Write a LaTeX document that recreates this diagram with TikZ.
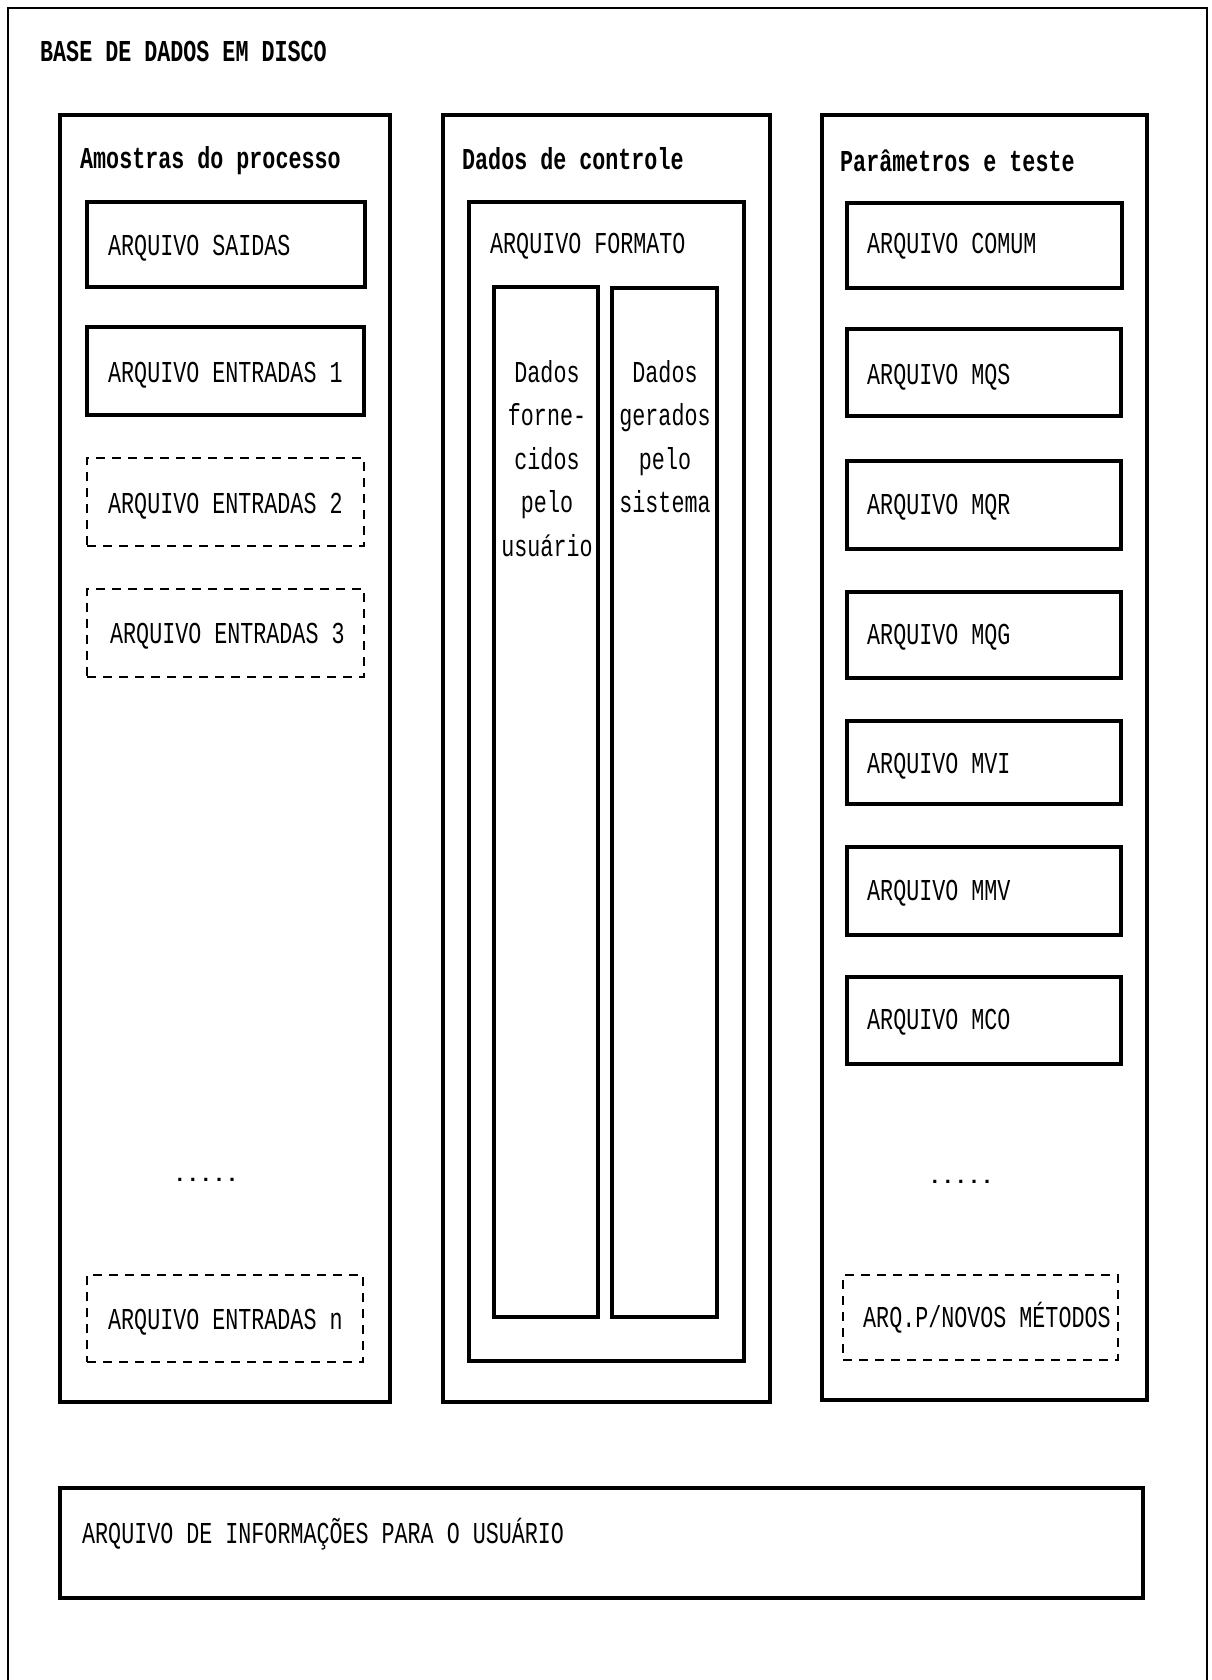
\documentclass[tikz,border=0pt]{standalone}
\usepackage{fontspec}
\setmainfont{Liberation Mono}
\usepackage{graphicx}
\usetikzlibrary{fit}
\newcommand{\tallt}[1]{\scalebox{1}[1.4]{#1}}
\tikzset{
  panel/.style={draw, line width=3.2pt, inner sep=0pt},
  filebox/.style={draw, line width=3.2pt, inner sep=0pt},
  dashbox/.style={draw, line width=2.8pt, dash pattern=on 9pt off 7pt, inner sep=0pt},
  lbl/.style={anchor=base west, inner sep=0pt, font=\fontsize{21.7}{26}\selectfont},
  ttl/.style={lbl, font=\fontsize{21.7}{26}\selectfont\bfseries},
  clbl/.style={lbl, anchor=base},
  frame/.style={draw, line width=1.8pt},
}
\begin{document}
\begin{tikzpicture}[x=1pt,y=-1pt]
\useasboundingbox (0,0) rectangle (1211,1680);
% outer frame (bottom edge lies outside the page)
\coordinate (fbl) at (8,1680);
\coordinate (ftl) at (8,8);
\coordinate (ftr) at (1207,8);
\coordinate (fbr) at (1207,1680);
\draw[frame] (fbl) -- (ftl) -- (ftr) -- (fbr);
\node[ttl] (title) at (40,62) {\tallt{BASE DE DADOS EM DISCO}};

% ---------- left panel ----------
\node[panel, fit={(60,115) (390,1402)}] (pL) {};
\node[ttl] (tL) at (80,169) {\tallt{Amostras do processo}};
\node[filebox, fit={(87,202) (365,287)}] (saidas) {};
\node[lbl] (tsaidas) at (108,255) {\tallt{ARQUIVO SAIDAS}};
\node[filebox, fit={(87,327) (364,415)}] (ent1) {};
\node[lbl] (tent1) at (108,382) {\tallt{ARQUIVO ENTRADAS 1}};
\node[dashbox, fit={(87,458) (364,546)}] (ent2) {};
\node[lbl] (tent2) at (108,513) {\tallt{ARQUIVO ENTRADAS 2}};
\node[dashbox, fit={(87,589) (364,677)}] (ent3) {};
\node[lbl] (tent3) at (110,643) {\tallt{ARQUIVO ENTRADAS 3}};
\node[clbl, font=\fontsize{21.7}{26}\selectfont\bfseries] (dotsL) at (206,1181) {.....};
\node[dashbox, fit={(87,1275) (363,1362)}] (entn) {};
\node[lbl] (tentn) at (108,1329) {\tallt{ARQUIVO ENTRADAS n}};

% ---------- middle panel ----------
\node[panel, fit={(443,115) (770,1402)}] (pM) {};
\node[ttl] (tM) at (462,170) {\tallt{Dados de controle}};
\node[filebox, fit={(469,202) (744,1361)}] (formato) {};
\node[lbl] (tformato) at (490,254) {\tallt{ARQUIVO FORMATO}};
\node[filebox, fit={(494,287) (598,1317)}] (colA) {};
\node[filebox, fit={(612,288) (717,1317)}] (colB) {};
\foreach \t [count=\i] in {Dados,forne-,cidos,pelo,usuário}
  \node[clbl] (ca\i) at ({547},{382+43.5*(\i-1)}) {\tallt{\t}};
\foreach \t [count=\i] in {Dados,gerados,pelo,sistema}
  \node[clbl] (cb\i) at ({665},{382+43.5*(\i-1)}) {\tallt{\t}};

% ---------- right panel ----------
\node[panel, fit={(822,115) (1147,1400)}] (pR) {};
\node[ttl] (tR) at (840,172) {\tallt{Parâmetros e teste}};
\node[filebox, fit={(847,203) (1122,288)}] (comum) {};
\node[lbl] (tcomum) at (867,254) {\tallt{ARQUIVO COMUM}};
\node[filebox, fit={(847,329) (1121,416)}] (mqs) {};
\node[lbl] (tmqs) at (867,384) {\tallt{ARQUIVO MQS}};
\node[filebox, fit={(847,461) (1121,549)}] (mqr) {};
\node[lbl] (tmqr) at (867,514) {\tallt{ARQUIVO MQR}};
\node[filebox, fit={(847,592) (1121,678)}] (mqg) {};
\node[lbl] (tmqg) at (867,644) {\tallt{ARQUIVO MQG}};
\node[filebox, fit={(847,721) (1121,804)}] (mvi) {};
\node[lbl] (tmvi) at (867,773) {\tallt{ARQUIVO MVI}};
\node[filebox, fit={(847,847) (1121,935)}] (mmv) {};
\node[lbl] (tmmv) at (867,900) {\tallt{ARQUIVO MMV}};
\node[filebox, fit={(847,977) (1121,1064)}] (mco) {};
\node[lbl] (tmco) at (867,1029) {\tallt{ARQUIVO MCO}};
\node[clbl, font=\fontsize{21.7}{26}\selectfont\bfseries] (dotsR) at (961,1183) {.....};
\node[dashbox, fit={(843,1275) (1118,1360)}] (novos) {};
\node[lbl] (tnovos) at (863,1327) {\tallt{ARQ.P/NOVOS MÉTODOS}};

% ---------- bottom box ----------
\node[panel, fit={(60,1488) (1143,1598)}] (info) {};
\node[lbl] (tinfo) at (82,1543) {\tallt{ARQUIVO DE INFORMAÇÕES PARA O USUÁRIO}};
\end{tikzpicture}
\end{document}
